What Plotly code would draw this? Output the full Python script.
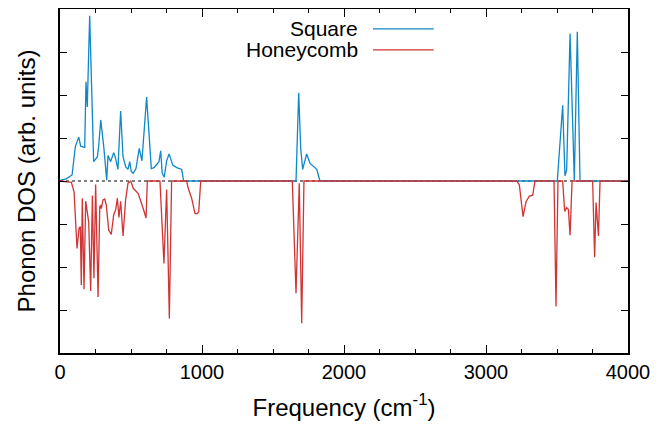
# Phonon DOS: square vs honeycomb lattice (honeycomb drawn mirrored below zero)

import plotly.graph_objects as go

# Square lattice (positive side)
square_freq = [0, 5, 44, 85, 108, 132, 146, 174, 183, 192, 209, 237, 263, 272, 287, 308, 329,
               338, 357, 378, 389, 408, 427, 444, 463, 479, 491, 502, 516, 535, 558, 577, 610,
               627, 643, 662, 697, 709, 720, 734, 751, 768, 794, 822, 857, 871,
               1662, 1681, 1695, 1709, 1737, 1761, 1808, 1831,
               3502, 3540, 3556, 3568, 3592, 3622, 3643, 3662, 4000]
square_dos = [0, 0.02, 0.05, 0.14, 0.80, 1.02, 0.81, 0.78, 2.31, 1.72, 3.84, 0.45, 0.56, 0.80,
              1.42, 0.80, 0.02, 0.59, 0.45, 0.66, 0.56, 0.27, 1.63, 0.56, 0.33, 0.27, 0.45,
              0.22, 0.18, 0.29, 0.76, 0.47, 1.95, 1.03, 0.29, 0.31, 0.45, 0.70, 0.18, 0.09,
              0.47, 0.63, 0.37, 0.31, 0.27, 0,
              0, 2.05, 0.76, 0.27, 0.63, 0.41, 0.27, 0,
              0, 1.76, 0.12, 0.26, 3.43, 0.02, 3.47, 0, 0]

# Honeycomb lattice (plotted as negative values)
honey_freq = [0, 5, 80, 99, 120, 134, 143, 150, 157, 169, 181, 202, 216, 228, 239, 251, 268,
              280, 287, 291, 303, 315, 326, 343, 361, 378, 392, 404, 415, 427, 444, 462, 479,
              498, 516, 551, 587, 606, 615,
              704, 732, 751, 770, 786,
              892, 903, 927, 951, 967, 977, 991,
              1636, 1662, 1685, 1702, 1718,
              3216, 3235, 3261, 3282, 3305, 3329, 3345,
              3479, 3493, 3507, 3540, 3554, 3568, 3580, 3592, 3606,
              3751, 3765, 3775, 3792, 3803, 4000]
honey_dos = [0, 0, -0.03, -0.25, -1.57, -1.10, -1.06, -2.42, -0.40, -2.52, -0.47, -0.95, -2.56,
             -0.34, -2.26, -0.08, -2.70, -0.60, -0.56, -0.64, -0.44, -0.42, -0.56, -1.14,
             -1.24, -0.79, -0.67, -0.40, -0.85, -0.47, -1.28, -0.44, -0.05,
             0, -0.17, -0.29, -0.65, -0.86, 0,
             0, -1.92, -0.20, -3.20, 0,
             0, -0.17, -0.40, -0.76, -0.76, -0.71, 0,
             0, -2.61, -0.05, -3.31, 0,
             0, -0.09, -0.83, -0.48, -0.35, -0.33, 0,
             0, -2.92, 0, 0, -0.71, -0.62, -0.66, -1.26, 0,
             0, -1.77, -0.50, -1.28, 0, 0]

blue = "#0f88c8"
red = "#d03434"
font = "Liberation Sans, Arial, Helvetica, sans-serif"

fig = go.Figure()
fig.add_trace(go.Scatter(x=square_freq, y=square_dos, mode="lines", name="Square",
                         line=dict(color=blue, width=1.3)))
fig.add_trace(go.Scatter(x=honey_freq, y=honey_dos, mode="lines", name="Honeycomb",
                         line=dict(color=red, width=1.3)))

# dotted zero axis under the curves
fig.add_shape(type="line", xref="x", yref="y", x0=0, x1=4000, y0=0, y1=0, layer="below",
              line=dict(color="black", width=1, dash="dot"))

# gnuplot-style key: text on the left, sample on the right
for label, color, yk in [("Square", blue, 0.942), ("Honeycomb", red, 0.881)]:
    fig.add_annotation(xref="paper", yref="paper", x=0.527, y=yk, text=label, showarrow=False,
                       xanchor="right", yanchor="middle", borderpad=0,
                       font=dict(size=21, color="black"))
    fig.add_shape(type="line", xref="paper", yref="paper", x0=0.551, x1=0.658, y0=yk, y1=yk,
                  line=dict(color=color, width=1.3))

axis_common = dict(showline=True, linecolor="black", linewidth=1.5, mirror="ticks",
                   ticks="inside", tickcolor="black", showgrid=False, zeroline=False,
                   automargin=False)

# page body adds an 8px offset, so the figure is a bit smaller than the window
fig.update_layout(
    width=650, height=417,
    margin=dict(l=52, r=30, t=1, b=72, autoexpand=False),
    plot_bgcolor="white", paper_bgcolor="white",
    font=dict(family=font, size=20, color="black"),
    showlegend=False,
    xaxis=dict(range=[0, 4000], dtick=1000, tick0=0, ticklen=8, tickwidth=1.2,
               minor=dict(dtick=250, ticks="inside", ticklen=4, tickcolor="black", showgrid=False),
               title=dict(text="Frequency (cm<sup>-1</sup>)", standoff=17),
               **axis_common),
    yaxis=dict(range=[-4, 4], dtick=1, tick0=0, ticklen=7, tickwidth=1.2,
               showticklabels=False,
               title=dict(text="Phonon DOS (arb. units)", standoff=16),
               **axis_common),
)

fig.write_html("out.html")
